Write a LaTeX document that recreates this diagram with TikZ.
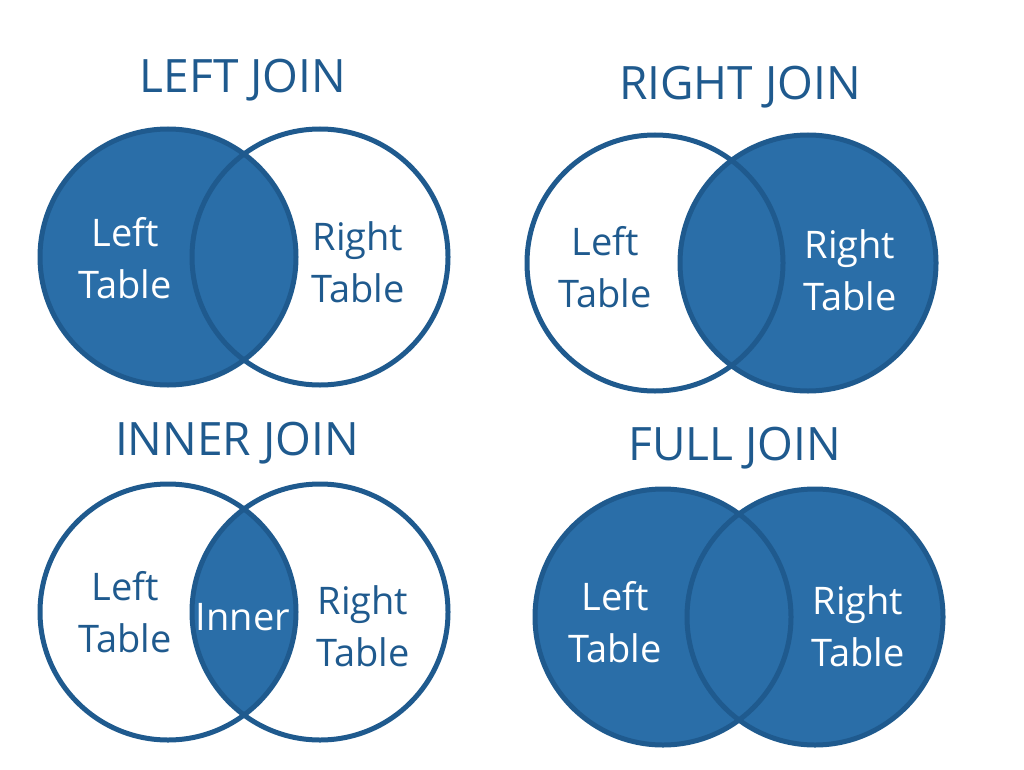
\documentclass[tikz,border=0pt]{standalone}
\usepackage{fontspec}
\setmainfont{Open Sans}
\definecolor{joinblue}{HTML}{2A6EA8}
\definecolor{joinline}{HTML}{1F5A8E}
\begin{document}
\begin{tikzpicture}[x=1pt,y=-1pt,
  ring/.style={draw=joinline, line width=5pt},
  title/.style={text=joinline, font=\fontsize{46}{48}\selectfont},
  lbl/.style={align=center, font=\fontsize{38}{52}\selectfont},
  onfill/.style={lbl, text=white},
  offfill/.style={lbl, text=joinline}
]
\useasboundingbox (0,0) rectangle (1024,770);

% Left join
\node[title] (tleft) at (243,80) {LEFT JOIN};
\fill[joinblue] (168,257) circle (128);
\draw[ring] (168,257) circle (128);
\draw[ring] (320,257) circle (128);
\node[onfill] (lleft) at (125,258) {Left\\Table};
\node[offfill] (lright) at (358,262) {Right\\Table};

% Right join
\node[title] (tright) at (740,87) {RIGHT JOIN};
\fill[joinblue] (808,263) circle (128);
\draw[ring] (655,263) circle (128);
\draw[ring] (808,263) circle (128);
\node[offfill] (rleft) at (605,267) {Left\\Table};
\node[onfill] (rright) at (850,270) {Right\\Table};

% Inner join
\node[title] (tinner) at (237,443) {INNER JOIN};
\begin{scope}
  \clip (168,612) circle (128);
  \fill[joinblue] (320,612) circle (128);
\end{scope}
\draw[ring] (168,612) circle (128);
\draw[ring] (320,612) circle (128);
\node[offfill] (ileft) at (125,612) {Left\\Table};
\node[onfill] (imid) at (243,617) {Inner};
\node[offfill] (iright) at (363,626) {Right\\Table};

% Full join
\node[title] (tfull) at (735,448) {FULL JOIN};
\fill[joinblue] (663,617) circle (128) (815,617) circle (128);
\draw[ring] (663,617) circle (128);
\draw[ring] (815,617) circle (128);
\node[onfill] (fleft) at (615,622) {Left\\Table};
\node[onfill] (fright) at (858,626) {Right\\Table};
\end{tikzpicture}
\end{document}
